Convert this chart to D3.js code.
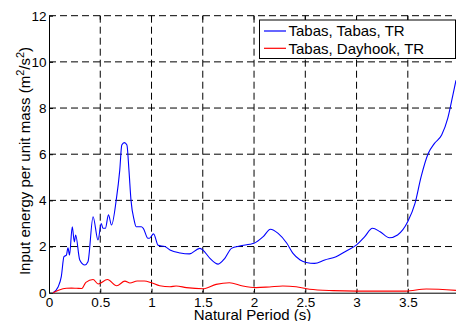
<!DOCTYPE html>
<html>
<head>
	<meta charset="utf-8">
	<script src="https://d3js.org/d3.v7.min.js"></script>
	<style>
		body { margin: 0; background: #fff; }
		text { font-family: "Liberation Sans", Arial, sans-serif; fill: #000; }
	</style>
</head>
<body>
	<div id="my_dataviz"></div>
	<script>

	// data: natural period (s) and input energy per unit mass
	const tabasPeriod = [0.04, 0.09, 0.12, 0.146, 0.17, 0.185, 0.2, 0.227, 0.247, 0.26, 0.3, 0.35, 0.38, 0.43, 0.478,
		0.51, 0.526, 0.55, 0.58, 0.61, 0.656, 0.69, 0.71, 0.735, 0.76, 0.78, 0.8, 0.83, 0.85, 0.9, 0.92, 0.965, 0.98,
		1.02, 1.065, 1.13, 1.18, 1.28, 1.37, 1.47, 1.5, 1.57, 1.65, 1.715, 1.78, 1.86, 1.96, 2.0, 2.09, 2.16, 2.235,
		2.32, 2.38, 2.45, 2.51, 2.59, 2.69, 2.8, 2.9, 3.0, 3.08, 3.155, 3.23, 3.32, 3.4, 3.5, 3.57, 3.63, 3.7, 3.76,
		3.83, 3.89, 3.94, 3.97]
	const tabasEnergy = [0, 0.26, 0.7, 1.56, 1.63, 1.95, 1.63, 2.86, 2.2, 2.5, 1.42, 1.2, 1.34, 3.29, 2.28,
		3.0, 2.79, 2.79, 3.37, 2.93, 4.02, 5.3, 6.4, 6.5, 6.4, 5.3, 4.0, 3.15, 2.86, 2.86, 2.79, 2.36, 2.36,
		2.55, 2.05, 2.0, 1.85, 1.72, 1.68, 1.92, 1.85, 1.49, 1.24, 1.49, 1.92, 2.02, 2.1, 2.14, 2.43, 2.75, 2.57,
		2.14, 1.7, 1.42, 1.31, 1.27, 1.42, 1.56, 1.81, 2.07, 2.43, 2.79, 2.64, 2.38, 2.5, 3.08, 3.87, 5.03, 6.04, 6.47,
		6.83, 7.56, 8.57, 9.2]

	const dayhookPeriod = [0.04, 0.1, 0.17, 0.22, 0.27, 0.32, 0.36, 0.43, 0.48, 0.57, 0.66, 0.74, 0.79, 0.86, 0.93,
		1.0, 1.08, 1.18, 1.24, 1.34, 1.5, 1.63, 1.76, 1.89, 2.02, 2.15, 2.28, 2.41, 2.54, 2.77, 3.0, 3.26, 3.48, 3.68, 3.97]
	const dayhookEnergy = [0, 0.12, 0.19, 0.2, 0.19, 0.18, 0.45, 0.57, 0.38, 0.57, 0.3, 0.5, 0.42, 0.51, 0.51,
		0.43, 0.3, 0.26, 0.29, 0.22, 0.17, 0.36, 0.43, 0.29, 0.22, 0.25, 0.29, 0.26, 0.15, 0.09, 0.07, 0.07, 0.07, 0.16, 0.1]

	const xTicks = [0, 0.5, 1, 1.5, 2, 2.5, 3, 3.5]
	const yTicks = [0, 2, 4, 6, 8, 10, 12]
	const seriesNames = ["Tabas, Tabas, TR", "Tabas, Dayhook, TR"]
	const seriesColors = ["#0000ff", "#ff0000"]

	const width = 456
	const height = 321
	const plotLeft = 49, plotRight = 456, plotTop = 15.7, plotBottom = 292.7

	const svg = d3.select("#my_dataviz")
	  .append("svg")
	    .attr("width", width)
	    .attr("height", height)

	const x = d3.scaleLinear().domain([0, 3.97]).range([plotLeft, plotRight])
	const y = d3.scaleLinear().domain([0, 12]).range([plotBottom, plotTop])

	// dashed grid
	const grid = svg.append("g")
	  .attr("stroke", "#000")
	  .attr("stroke-width", 1)
	  .attr("stroke-dasharray", "7,4")
	grid.selectAll(".vg")
	  .data(xTicks.filter(d => d > 0))
	  .join("line")
	    .attr("x1", d => x(d)).attr("x2", d => x(d))
	    .attr("y1", plotTop).attr("y2", plotBottom)
	grid.selectAll(".hg")
	  .data(yTicks.filter(d => d > 0))
	  .join("line")
	    .attr("x1", plotLeft).attr("x2", plotRight)
	    .attr("y1", d => y(d)).attr("y2", d => y(d))

	// axes (ticks point inward, MATLAB style)
	svg.append("g")
	  .attr("transform", `translate(0,${plotBottom})`)
	  .call(d3.axisBottom(x).tickValues(xTicks).tickSizeInner(-4).tickSizeOuter(0).tickPadding(4.5).tickFormat(d3.format("")))
	  .call(g => g.selectAll("text").attr("font-size", "13.5px").attr("font-family", "Liberation Sans, Arial, sans-serif"))
	svg.append("g")
	  .attr("transform", `translate(${plotLeft},0)`)
	  .call(d3.axisLeft(y).tickValues(yTicks).tickSizeInner(-4).tickSizeOuter(0).tickPadding(2.5))
	  .call(g => g.selectAll("text").attr("font-size", "13.5px").attr("font-family", "Liberation Sans, Arial, sans-serif"))
	svg.selectAll(".domain").attr("stroke", "#000")
	svg.selectAll(".tick line").attr("stroke", "#000")

	// small ticks along the top edge
	svg.append("g")
	  .selectAll("line")
	  .data(xTicks.filter(d => d > 0))
	  .join("line")
	    .attr("x1", d => x(d)).attr("x2", d => x(d))
	    .attr("y1", plotTop).attr("y2", plotTop + 4)
	    .attr("stroke", "#000")

	// curves
	const line = d3.line()
	  .x(d => x(d[0]))
	  .y(d => y(d[1]))
	  .curve(d3.curveMonotoneX)

	const series = [
		d3.zip(tabasPeriod, tabasEnergy),
		d3.zip(dayhookPeriod, dayhookEnergy)
	]
	svg.append("g")
	  .selectAll("path")
	  .data(series)
	  .join("path")
	    .attr("d", line)
	    .attr("fill", "none")
	    .attr("stroke", (d, i) => seriesColors[i])
	    .attr("stroke-width", 1.1)

	// legend
	const legend = svg.append("g").attr("transform", "translate(259.5,20)")
	legend.append("rect")
	  .attr("width", 196)
	  .attr("height", 38.5)
	  .attr("fill", "#fff")
	  .attr("stroke", "#000")
	  .attr("stroke-width", 1)
	const items = legend.selectAll(".item")
	  .data(seriesNames)
	  .join("g")
	    .attr("transform", (d, i) => `translate(0,${11 + i * 17.3})`)
	items.append("line")
	  .attr("x1", 4.5).attr("x2", 26.5)
	  .attr("stroke", (d, i) => seriesColors[i])
	  .attr("stroke-width", 1.2)
	items.append("text")
	  .attr("x", 29)
	  .attr("dy", "0.35em")
	  .attr("font-size", "15px")
	  .text(d => d)

	// axis labels
	svg.append("text")
	  .attr("x", (plotLeft + plotRight) / 2)
	  .attr("y", 319.5)
	  .attr("text-anchor", "middle")
	  .attr("font-size", "15px")
	  .text("Natural Period (s)")

	const ylab = svg.append("text")
	  .attr("transform", "translate(30,161) rotate(-90)")
	  .attr("text-anchor", "middle")
	  .attr("font-size", "15px")
	ylab.append("tspan").text("Input energy per unit mass (m")
	ylab.append("tspan").attr("font-size", "11px").attr("baseline-shift", "super").text("2")
	ylab.append("tspan").text("/s")
	ylab.append("tspan").attr("font-size", "11px").attr("baseline-shift", "super").text("2")
	ylab.append("tspan").text(")")

	</script>
</body>
</html>
